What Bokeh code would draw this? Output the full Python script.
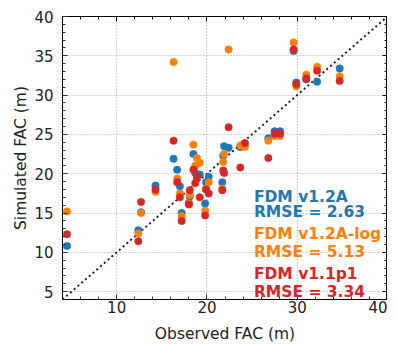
from bokeh.plotting import figure
from bokeh.models import LinearAxis, Range1d, SingleIntervalTicker, Label, ColumnDataSource, CustomJSTickFormatter
from bokeh.embed import file_html
from bokeh.resources import INLINE

observed = [4.5, 12.4, 12.7, 14.3, 16.3, 16.7, 17.0, 17.2, 18.0, 18.1, 18.5, 18.7, 18.9, 19.2,
            19.8, 19.9, 20.2, 21.7, 21.8, 21.9, 22.4, 23.7, 24.2, 26.8, 27.5, 28.1, 29.6, 29.9,
            31.0, 32.2, 34.7]
fdm_v12a = [10.8, 12.8, 15.1, 18.5, 21.9, 20.5, 18.4, 15.0, 16.3, 17.1, 22.5, 20.1, 19.4, 19.9,
            16.2, 18.9, 19.6, 18.9, 22.3, 23.5, 23.3, 23.4, 23.8, 24.5, 25.4, 25.4, 35.6, 31.6,
            32.0, 31.7, 33.4]
fdm_v12a_log = [15.2, 12.4, 15.0, 17.7, 34.2, 19.4, 17.5, 14.6, 16.2, 17.3, 23.7, 21.0, 22.0, 21.4,
                15.3, 18.1, 18.9, 18.1, 21.5, 22.5, 35.8, 23.6, 23.4, 24.2, 24.8, 24.8, 36.7, 31.1,
                32.6, 33.6, 32.4]
fdm_v11p1 = [12.3, 11.4, 16.4, 18.0, 24.2, 18.9, 17.0, 14.0, 16.1, 17.9, 20.5, 18.8, 19.6, 17.0,
             14.7, 18.0, 17.5, 17.9, 20.4, 20.1, 25.9, 20.8, 23.9, 22.0, 25.1, 25.1, 35.8, 31.4,
             32.1, 33.1, 31.8]
series_names = ["FDM v1.2A", "FDM v1.2A-log", "FDM v1.1p1"]
rmse_values = ["2.63", "5.13", "3.34"]
colors = ["#1f77b4", "#ff7f0e", "#d62728"]
diag = [4, 40]

FONT = "DejaVu Sans"

p = figure(output_backend="svg", toolbar_location=None,
           x_range=Range1d(4, 40), y_range=Range1d(4, 40),
           frame_width=325, frame_height=283,
           min_border_left=62, min_border_right=0, min_border_top=16, min_border_bottom=45,
           x_axis_label="Observed FAC (m)", y_axis_label="Simulated FAC (m)")
p.background_fill_color = "white"
p.outline_line_color = "black"
p.outline_line_width = 1

xt = SingleIntervalTicker(interval=10, num_minor_ticks=5)
yt = SingleIntervalTicker(interval=5, num_minor_ticks=5)
p.xaxis.ticker = xt
p.yaxis.ticker = yt
p.xgrid.ticker = xt
p.ygrid.ticker = yt
for g in (p.xgrid, p.ygrid):
    g.grid_line_color = "#a8a8a8"
    g.grid_line_dash = "1 2"
    g.grid_line_width = 1.2

for ax in (p.xaxis[0], p.yaxis[0]):
    ax.major_tick_in = 5
    ax.major_tick_out = 0
    ax.minor_tick_in = 3
    ax.minor_tick_out = 0
    ax.axis_line_color = "black"
    ax.major_tick_line_color = "#333333"
    ax.minor_tick_line_color = "#333333"
    ax.major_label_text_font = FONT
    ax.major_label_text_font_size = "15px"
    ax.major_label_text_color = "#222222"
    ax.axis_label_text_font = FONT
    ax.axis_label_text_font_size = "15.5px"
    ax.axis_label_text_font_style = "normal"
    ax.axis_label_text_color = "#222222"

p.xaxis[0].major_label_standoff = 1
p.xaxis[0].axis_label_standoff = 9
p.yaxis[0].major_label_standoff = 9
p.yaxis[0].axis_label_standoff = 1

for loc, tk in (("right", yt), ("above", xt)):
    ax = LinearAxis(ticker=tk, formatter=CustomJSTickFormatter(code="return ''"))
    ax.major_label_standoff = 0
    ax.major_tick_in = 5
    ax.major_tick_out = 0
    ax.minor_tick_in = 3
    ax.minor_tick_out = 0
    ax.axis_line_color = "black"
    p.add_layout(ax, loc)

p.line(diag, diag, line_color="#222222", line_width=2, line_dash="2 3")

for sim, c in zip([fdm_v12a, fdm_v12a_log, fdm_v11p1], colors):
    src = ColumnDataSource(dict(x=observed, y=sim))
    p.scatter("x", "y", source=src, size=7.5, fill_color=c, line_color=c, line_alpha=0.4)

label_y = [(17.0, 15.1), (12.3, 10.0), (7.2, 5.0)]
for name, rm, c, (y1, y2) in zip(series_names, rmse_values, colors, label_y):
    for txt, yy in ((name, y1), ("RMSE = " + rm, y2)):
        p.add_layout(Label(x=25.2, y=yy, text=txt, text_color=c, text_font=FONT,
                           text_font_size="15.5px", text_font_style="bold",
                           text_baseline="alphabetic"))

open("out.html", "w").write(file_html(p, INLINE))
